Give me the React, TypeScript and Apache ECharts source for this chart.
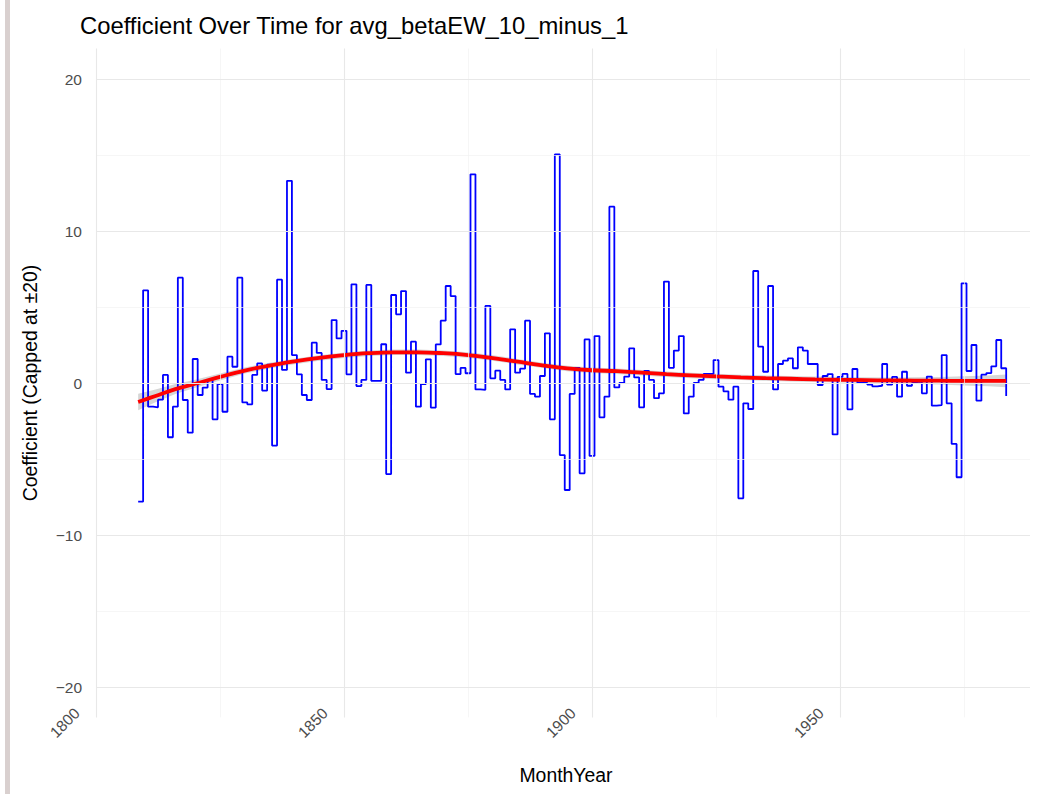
import React, { useEffect, useRef } from "react";
import * as echarts from "echarts";

// Yearly coefficient (capped at ±20), one value per year starting mid-1808
const startYear = 1808;
const coefValues = [
  -7.8, 6.1, -1.56, -1.6, -1.1, 0.53, -3.57, -1.56, 6.93, -1.12,
  -3.27, 1.58, -0.79, -0.3, 0.2, -2.39, -0.07, -1.89, 1.73, 1.07,
  6.93, -1.28, -1.4, 0.53, 1.29, -0.5, 1.2, -4.12, 6.8, 0.86,
  13.3, 1.84, 0.57, -0.79, -1.12, 2.65, 1.98, 0.2, -0.4, 4.14,
  2.93, 3.43, 0.57, 6.49, -0.2, 0.2, 6.45, 0.14, 0.14, 2.55,
  -5.99, 5.79, 4.52, 6.05, 0.68, 2.72, -1.56, -0.07, 1.56, -1.62,
  2.54, 4.1, 6.38, 5.72, 0.59, 0.99, 0.64, 13.73, -0.42, -0.45,
  5.07, 0.31, 0.81, 0.2, -0.42, 3.53, 0.68, 0.94, 4.1, -0.72,
  -0.9, 0.46, 3.27, -2.39, 15.04, -4.74, -7.04, -0.72, 1.0, -5.94,
  2.87, -4.8, 3.09, -2.26, -0.9, 11.6, -0.29, 0.0, 0.42, 2.28,
  0.37, -1.6, 0.79, 0.2, -1.0, -0.68, 6.67, 1.0, 2.13, 3.09,
  -2.0, -0.9, 0.0, 0.2, 0.6, 0.6, 1.51, -0.24, -0.55, -1.1,
  -0.24, -7.59, -1.34, -1.71, 7.37, 2.39, 0.74, 6.38, -0.42, 1.25,
  1.47, 1.62, 0.97, 2.35, 2.13, 1.25, 1.25, -0.13, 0.46, 0.59,
  -3.38, 0.4, 0.6, -1.73, 0.92, 0.0, 0.0, -0.1, -0.22, -0.18,
  1.25, -0.11, 0.4, -0.9, 0.74, -0.18, 0.0, 0.07, -0.68, 0.42,
  -1.49, -1.45, 1.84, -1.34, -4.01, -6.2, 6.56, 0.79, 2.5, -1.16,
  0.55, 0.65, 1.1, 2.83, 0.97, -0.86,
];
const monthYears = coefValues.map((_, i) => startYear + i + 0.5);

// LOESS fit with its standard-error half width
const smoothYears = [
  1808.5, 1812, 1816, 1820, 1825, 1830, 1835, 1840, 1845, 1850, 1855, 1860,
  1865, 1870, 1875, 1880, 1885, 1890, 1895, 1900, 1905, 1910, 1915, 1920,
  1925, 1930, 1935, 1940, 1945, 1950, 1955, 1960, 1965, 1970, 1975, 1980,
  1983.5,
];
const smoothFit = [
  -1.25, -0.85, -0.4, -0.05, 0.4, 0.82, 1.15, 1.42, 1.65, 1.83, 1.96, 2.02,
  2.02, 1.96, 1.84, 1.64, 1.4, 1.16, 0.96, 0.84, 0.78, 0.68, 0.58, 0.5,
  0.43, 0.37, 0.32, 0.28, 0.24, 0.21, 0.19, 0.17, 0.16, 0.15, 0.14, 0.14,
  0.14,
];
const smoothSe = [
  0.55, 0.42, 0.33, 0.27, 0.23, 0.2, 0.19, 0.18, 0.18, 0.18, 0.18, 0.18,
  0.18, 0.18, 0.18, 0.18, 0.18, 0.18, 0.18, 0.18, 0.18, 0.18, 0.18, 0.18,
  0.18, 0.18, 0.18, 0.18, 0.18, 0.18, 0.19, 0.2, 0.22, 0.25, 0.3, 0.36,
  0.42,
];

const xTickLabels = [1800, 1850, 1900, 1950];
const xMinorBreaks = [1825, 1875, 1925, 1975];
const yTickLabels = [-20, -10, 0, 10, 20];
const yMinorBreaks = [-15, -5, 5, 15];

const FONT = "'Liberation Sans', Arial, Helvetica, sans-serif";

export default function App() {
  const ref = useRef<HTMLDivElement>(null);

  useEffect(() => {
    if (!ref.current) return;
    const chart = echarts.init(ref.current, null, { renderer: "svg" });

    const majorGrid = { color: "#e8e8e8", width: 1.1, type: "solid" };
    const minorGrid = { color: "#f2f2f2", width: 0.7, type: "solid" };

    const gridLines = [
      ...yMinorBreaks.map((v) => ({ yAxis: v, lineStyle: minorGrid })),
      ...xMinorBreaks.map((v) => ({ xAxis: v, lineStyle: minorGrid })),
      ...yTickLabels.map((v) => ({ yAxis: v, lineStyle: majorGrid })),
      ...xTickLabels.map((v) => ({ xAxis: v, lineStyle: majorGrid })),
    ];

    const stepData = monthYears.map((x, i) => [x, coefValues[i]]);
    const fitData = smoothYears.map((x, i) => [x, smoothFit[i]]);

    chart.setOption({
      animation: false,
      backgroundColor: "#ffffff",
      textStyle: { fontFamily: FONT },
      grid: { left: 96, right: 7, top: 48.6, bottom: 76.6, containLabel: false },
      xAxis: {
        type: "value",
        min: 1800,
        max: 1988.3,
        axisLine: { show: false },
        axisTick: { show: false },
        splitLine: { show: false },
        axisLabel: {
          customValues: xTickLabels,
          rotate: 45,
          margin: -26,
          padding: [0, 27, 0, 0],
          color: "#4d4d4d",
          fontSize: 15.5,
          fontFamily: FONT,
          formatter: (v: number) => String(v),
        },
      },
      yAxis: {
        type: "value",
        min: -22,
        max: 22,
        axisLine: { show: false },
        axisTick: { show: false },
        splitLine: { show: false },
        axisLabel: {
          customValues: yTickLabels,
          margin: 14,
          color: "#4d4d4d",
          fontSize: 15.5,
          fontFamily: FONT,
          formatter: (v: number) => (v < 0 ? "\u2212" + Math.abs(v) : String(v)),
        },
      },
      graphic: [
        {
          type: "rect",
          shape: { x: 5, y: 0, width: 5, height: 794 },
          style: { fill: "#d9d0cf" },
          silent: true,
        },
        {
          type: "text",
          x: 80,
          y: 25,
          style: {
            text: "Coefficient Over Time for avg_betaEW_10_minus_1",
            fontSize: 23.8,
            fontFamily: FONT,
            fill: "#000000",
            align: "left",
            verticalAlign: "middle",
          },
        },
        {
          type: "text",
          x: 566,
          y: 775,
          style: {
            text: "MonthYear",
            fontSize: 19.4,
            fontFamily: FONT,
            fill: "#000000",
            align: "center",
            verticalAlign: "middle",
          },
        },
        {
          type: "text",
          x: 30,
          y: 383,
          rotation: Math.PI / 2,
          style: {
            text: "Coefficient (Capped at \u00b120)",
            fontSize: 19.4,
            fontFamily: FONT,
            fill: "#000000",
            align: "center",
            verticalAlign: "middle",
          },
        },
      ],
      series: [
        {
          name: "grid",
          type: "line",
          data: [[1800, 0]],
          showSymbol: false,
          lineStyle: { width: 0 },
          silent: true,
          z: 1,
          markLine: {
            silent: true,
            symbol: ["none", "none"],
            label: { show: false },
            emphasis: { disabled: true },
            data: gridLines,
          },
        },
        {
          name: "se",
          type: "custom",
          silent: true,
          z: 2,
          data: [[smoothYears[0], smoothFit[0]]],
          renderItem: (_params: any, api: any) => {
            const upper = smoothYears.map((x, i) =>
              api.coord([x, smoothFit[i] + smoothSe[i]])
            );
            const lower = smoothYears
              .map((x, i) => api.coord([x, smoothFit[i] - smoothSe[i]]))
              .reverse();
            return {
              type: "polygon",
              shape: { points: upper.concat(lower) },
              style: { fill: "rgba(153,153,153,0.4)", stroke: "none" },
            };
          },
        },
        {
          name: "Coefficient",
          type: "line",
          step: "end",
          data: stepData,
          showSymbol: false,
          symbol: "none",
          z: 3,
          lineStyle: { color: "#0000ff", width: 1.8 },
        },
        {
          name: "LOESS",
          type: "line",
          smooth: 0.4,
          data: fitData,
          showSymbol: false,
          symbol: "none",
          z: 4,
          lineStyle: { color: "#ff0000", width: 3.8 },
        },
      ],
    });

    return () => chart.dispose();
  }, []);

  return (
    <div
      ref={ref}
      style={{
        position: "fixed",
        left: 0,
        top: 0,
        width: 1037,
        height: 794,
        background: "#ffffff",
      }}
    />
  );
}
